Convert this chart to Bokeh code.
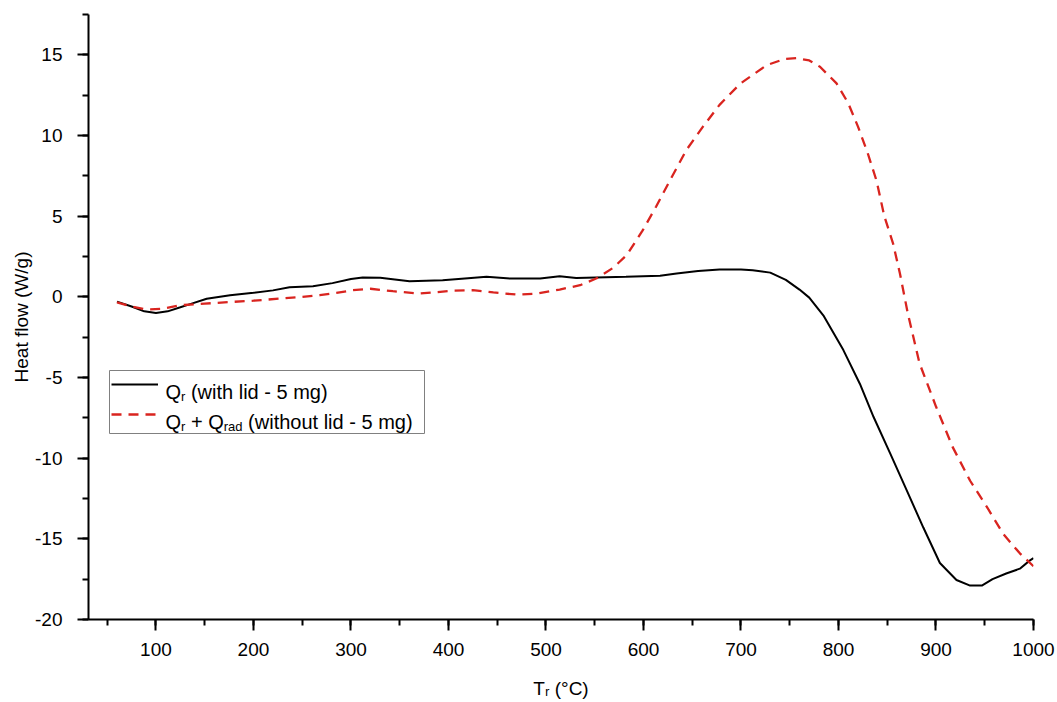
from bokeh.plotting import figure
from bokeh.models import (Range1d, SingleIntervalTicker, Legend, LegendItem,
                          Label, BoxAnnotation, PrintfTickFormatter)
from bokeh.core.properties import value
from bokeh.embed import file_html
from bokeh.resources import INLINE

# ---------------- data ----------------
T_lid = [60, 75, 88, 100, 112, 125, 135, 152, 176, 200,
         220, 237, 261, 281, 300, 312, 330, 360, 394, 420,
         439, 463, 494, 514, 531, 582, 617, 634, 656, 678,
         700, 712, 730, 746, 760, 770, 785, 805, 822, 836,
         853, 870, 887, 904, 921, 935, 947, 958, 972, 986,
         996, 1000]
Q_lid = [-0.3, -0.6, -0.9, -1.0, -0.9, -0.65, -0.45, -0.12, 0.1, 0.25,
         0.4, 0.6, 0.66, 0.85, 1.1, 1.2, 1.18, 0.97, 1.03, 1.15,
         1.24, 1.13, 1.13, 1.28, 1.17, 1.24, 1.3, 1.45, 1.6, 1.7,
         1.7, 1.65, 1.5, 1.05, 0.45, -0.05, -1.2, -3.3, -5.4, -7.45,
         -9.7, -12.0, -14.3, -16.5, -17.55, -17.9, -17.9, -17.5, -17.15, -16.85,
         -16.35, -16.2]

T_nolid = [60, 75, 90, 105, 125, 150, 176, 200, 227, 250,
           268, 285, 302, 320, 343, 370, 405, 425, 446, 470,
           490, 514, 535, 552, 569, 583, 599, 613, 627, 644,
           661, 678, 699, 726, 745, 757, 770, 781, 798, 810,
           820, 830, 839, 847, 856, 863, 871, 883, 900, 917,
           935, 952, 969, 986, 1000]
Q_nolid = [-0.35, -0.6, -0.78, -0.75, -0.52, -0.42, -0.32, -0.24, -0.11, 0.0,
           0.1, 0.25, 0.41, 0.5, 0.35, 0.2, 0.38, 0.41, 0.27, 0.14,
           0.2, 0.45, 0.72, 1.15, 1.8, 2.6, 4.1, 5.6, 7.2, 9.1,
           10.55, 11.9, 13.2, 14.35, 14.75, 14.8, 14.65, 14.26, 13.23, 12.0,
           10.55, 8.9, 7.2, 5.0, 3.3, 1.45, -1.0, -4.1, -6.8, -9.3,
           -11.4, -13.0, -14.7, -15.9, -16.7]

X_RANGE = (30.8, 1000)
Y_RANGE = (-20, 17.5)
X_TICK_STEP = 100
Y_TICK_STEP = 5
X_LABEL = "T\u1d63 (\u00b0C)"
Y_LABEL = "Heat flow (W/g)"

# ---------------- layout ----------------
FONT = "Liberation Sans"
W, H = 1056, 701
FRAME_L, FRAME_R, FRAME_T, FRAME_B = 88, 1033, 14, 619   # canvas px
PAGE = 0

p = figure(width=W, height=H, output_backend="svg", toolbar_location=None,
           x_range=Range1d(*X_RANGE), y_range=Range1d(*Y_RANGE),
           min_border_left=FRAME_L, min_border_right=W - FRAME_R,
           min_border_top=FRAME_T, min_border_bottom=H - FRAME_B)
p.outline_line_color = None
p.grid.visible = False
p.background_fill_color = "white"

p.xaxis.ticker = SingleIntervalTicker(interval=X_TICK_STEP, num_minor_ticks=2)
p.yaxis.ticker = SingleIntervalTicker(interval=Y_TICK_STEP, num_minor_ticks=2)
for ax in (p.xaxis[0], p.yaxis[0]):
    ax.formatter = PrintfTickFormatter(format="%d")
    ax.axis_line_width = 2
    ax.major_tick_line_width = 2
    ax.minor_tick_line_width = 2
    ax.major_tick_in = 0
    ax.major_tick_out = 11
    ax.minor_tick_in = 0
    ax.minor_tick_out = 6
    ax.major_label_text_font = FONT
    ax.major_label_text_font_size = "19px"
    ax.major_label_text_color = "black"
    ax.axis_line_color = "black"
    ax.major_tick_line_color = "black"
    ax.minor_tick_line_color = "black"
    ax.axis_label_text_font = FONT
    ax.axis_label_text_font_size = "19px"
    ax.axis_label_text_font_style = "normal"
    ax.axis_label_text_color = "black"
p.xaxis.major_label_standoff = 12
p.yaxis.major_label_standoff = 15
p.yaxis.axis_label = Y_LABEL
p.yaxis.axis_label_standoff = 0
p.xaxis.axis_label = X_LABEL
p.xaxis.axis_label_standoff = 19

r1 = p.line(T_lid, Q_lid, line_color="black", line_width=2)
r2 = p.line(T_nolid, Q_nolid, line_color="#d9241f", line_width=2.3,
            line_dash="10 7")

# ---------------- legend ----------------
def fx(page_x):
    return page_x - PAGE - FRAME_L


def fy(page_y):
    return FRAME_B - (page_y - PAGE)


box = BoxAnnotation(left=fx(109), right=fx(424), top=fy(370), bottom=fy(433),
                    left_units="screen", right_units="screen",
                    top_units="screen", bottom_units="screen",
                    fill_color="white", fill_alpha=1.0,
                    line_color="#808080", line_width=1, line_alpha=1.0)
p.add_layout(box)

legend = Legend(items=[LegendItem(label=value(" "), renderers=[r1]),
                       LegendItem(label=value(" "), renderers=[r2])],
                location=(fx(111), fy(424)), padding=0, spacing=10, margin=0,
                glyph_width=47, glyph_height=20, label_height=20,
                label_width=240, label_standoff=6,
                border_line_alpha=0, background_fill_alpha=0)
p.add_layout(legend)

AW = {' ': 278, '(': 333, ')': 333, '-': 333, '+': 584, '/': 278,
      'Q': 778, 'T': 611, 'C': 722,
      'a': 556, 'd': 556, 'g': 556, 'h': 556, 'i': 222, 'l': 222,
      'm': 833, 'o': 556, 'r': 333, 't': 278, 'u': 556, 'w': 722}
for dch in "0123456789":
    AW[dch] = 556


def tw(s, size):
    return sum(AW.get(c, 556) for c in s) * size / 1000.0


def runs(parts, x0, base_y):
    x = x0
    for text, size, dy in parts:
        stripped = text.lstrip(" ")
        x += tw(text[:len(text) - len(stripped)], size)
        p.add_layout(Label(x=fx(x), y=fy(base_y + dy),
                           x_units="screen", y_units="screen",
                           text=stripped, text_font=FONT,
                           text_font_size=f"{size}px",
                           text_baseline="alphabetic", text_align="left",
                           text_color="black"))
        x += tw(stripped, size)
    return x


LEG1 = [("Q", 20, 0), ("r", 13, 5), (" (with lid - 5 mg)", 20, 0)]
LEG2 = [("Q", 20, 0), ("r", 13, 5), (" + Q", 20, 0), ("rad", 13, 5),
        (" (without lid - 5 mg)", 20, 0)]
runs(LEG1, 165, 391)
runs(LEG2, 165, 421)

open("out.html", "w").write(file_html(p, INLINE))
